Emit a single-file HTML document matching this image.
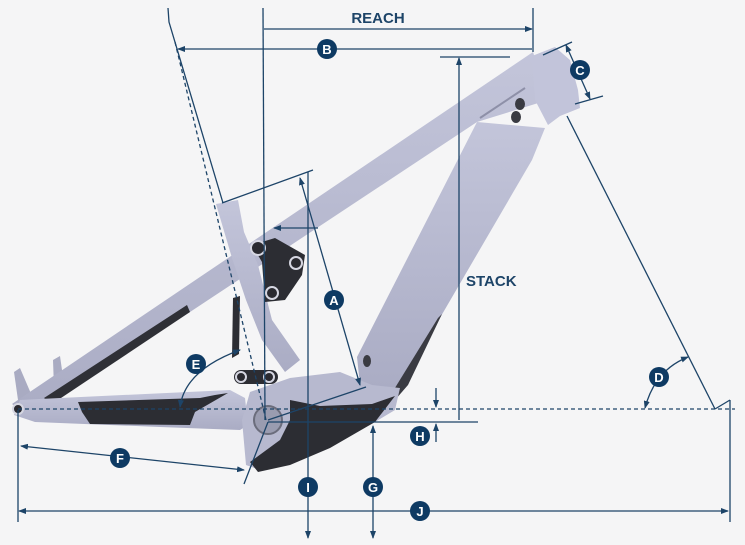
<!DOCTYPE html>
<html><head><meta charset="utf-8"><style>
html,body{margin:0;padding:0;background:#f5f5f6;}
svg{display:block;}
text{font-family:"Liberation Sans",sans-serif;font-weight:bold;}
</style></head><body>
<svg width="745" height="545" viewBox="0 0 745 545" xmlns="http://www.w3.org/2000/svg">
<defs>
<marker id="ar" markerWidth="8" markerHeight="6" refX="7" refY="3" orient="auto-start-reverse" markerUnits="userSpaceOnUse"><path d="M0,0 L8,3 L0,6 z" fill="#1d4468"/></marker>
<linearGradient id="fr" x1="0" y1="0" x2="0" y2="1"><stop offset="0" stop-color="#c3c5da"/><stop offset="1" stop-color="#aaacc4"/></linearGradient>
</defs>
<rect width="745" height="545" fill="#f5f5f6"/>

<g>
<polygon points="14,372 20,368 32,396 18,400" fill="#a9abc2"/>
<polygon points="53,360 60,356 64,384 54,388" fill="#a9abc2"/>
<polygon points="12,404 533,52 548,100 477,122 400,173 267,261 190,312 48,402 30,418" fill="url(#fr)"/>
<polygon points="44,398 187,305 190,312 52,404" fill="#2f3036"/>
<polygon points="20,400 60,398 230,390 245,398 248,425 240,430 160,427 35,422 14,415" fill="url(#fr)"/>
<polygon points="78,402 200,398 215,395 228,393 195,412 190,425 90,424 82,412" fill="#2c2d33"/>
<polygon points="216,204 238,200 244,232 258,265 272,320 300,360 285,372 262,340 246,300 232,258" fill="url(#fr)"/>
<polygon points="233,298 240,296 239,354 232,358" fill="#2c2d33"/>
<polygon points="477,122 545,128 532,160 430,335 400,390 360,385 357,357" fill="url(#fr)"/>
<polygon points="438,318 442,314 408,385 395,400 390,396" fill="#3a3b42"/>
<polygon points="532,56 555,47 570,60 578,90 580,108 560,116 548,125 535,100" fill="#c2c4da"/>
<path d="M480,118 L525,88" stroke="#8e90a8" stroke-width="2"/>
<polygon points="250,392 290,378 340,372 372,385 400,388 395,410 370,425 300,458 260,470 246,465 242,420" fill="#b7b9cf"/>
<path d="M290,400 L320,406 L372,404 L395,396 L375,422 L330,448 L290,465 L258,472 L250,462 L280,440 L290,420 Z" fill="#2c2d33"/>
<circle cx="268" cy="420" r="14" fill="#9a9cb0" stroke="#6b6d7c" stroke-width="2"/>
<polygon points="252,245 275,238 305,255 302,275 285,300 265,302 262,262" fill="#2c2d33"/>
<circle cx="258" cy="248" r="7" fill="#2a2a30" stroke="#d6d7e2" stroke-width="2"/>
<circle cx="296" cy="263" r="6" fill="#2a2a30" stroke="#d6d7e2" stroke-width="2"/>
<circle cx="272" cy="293" r="6" fill="#2a2a30" stroke="#d6d7e2" stroke-width="2"/>
<rect x="234" y="370" width="44" height="14" rx="7" fill="#2c2d33"/>
<circle cx="241" cy="377" r="5" fill="#2a2a30" stroke="#d6d7e2" stroke-width="2"/>
<circle cx="269" cy="377" r="5" fill="#2a2a30" stroke="#d6d7e2" stroke-width="2"/>
<circle cx="18" cy="409" r="5" fill="#2a2a30" stroke="#d6d7e2" stroke-width="2"/>
<ellipse cx="520" cy="104" rx="5" ry="6" fill="#3a3b42"/>
<ellipse cx="516" cy="117" rx="5" ry="6" fill="#3a3b42"/>
<ellipse cx="367" cy="361" rx="4" ry="6" fill="#3a3b42"/>
</g>

<g stroke="#1d4468" stroke-width="1.3" fill="none">
<line x1="263" y1="8" x2="265" y2="420"/>
<line x1="533" y1="8" x2="533" y2="52"/>
<line x1="264" y1="29" x2="532" y2="29" marker-end="url(#ar)"/>
<line x1="178" y1="49" x2="532" y2="49" marker-start="url(#ar)"/>
<path d="M168,8 L169,22 L223,203"/>
<line x1="175" y1="42" x2="266" y2="420" stroke-dasharray="4,3"/>
<line x1="222" y1="203" x2="313" y2="170"/>
<line x1="300" y1="178" x2="360" y2="385" marker-start="url(#ar)" marker-end="url(#ar)"/>
<line x1="268" y1="420" x2="366" y2="387"/>
<line x1="274" y1="228" x2="318" y2="228" marker-start="url(#ar)"/>
<line x1="308" y1="172" x2="308" y2="538" marker-end="url(#ar)"/>
<line x1="440" y1="57" x2="510" y2="57"/>
<line x1="459" y1="420" x2="459" y2="58" marker-end="url(#ar)"/>
<line x1="543" y1="55" x2="572" y2="42"/>
<line x1="575" y1="104" x2="603" y2="96"/>
<line x1="566" y1="45" x2="590" y2="99" marker-start="url(#ar)" marker-end="url(#ar)"/>
<line x1="567" y1="116" x2="715" y2="409"/>
<line x1="715" y1="409" x2="730" y2="400"/>
<line x1="730" y1="400" x2="730" y2="522"/>
<line x1="18" y1="409" x2="735" y2="409" stroke-dasharray="4,3"/>
<line x1="268" y1="422" x2="478" y2="422"/>
<line x1="436" y1="388" x2="436" y2="407" marker-end="url(#ar)"/>
<line x1="436" y1="442" x2="436" y2="424" marker-end="url(#ar)"/>
<line x1="373" y1="538" x2="373" y2="426" marker-start="url(#ar)" marker-end="url(#ar)"/>
<line x1="18" y1="410" x2="18" y2="522"/>
<line x1="19" y1="511" x2="728" y2="511" marker-start="url(#ar)" marker-end="url(#ar)"/>
<line x1="21" y1="446" x2="244" y2="470" marker-start="url(#ar)" marker-end="url(#ar)"/>
<line x1="268" y1="422" x2="244" y2="484"/>
<path d="M180,407 Q185,370 240,350" marker-start="url(#ar)" marker-end="url(#ar)"/>
<path d="M645,408 Q655,370 688,357" marker-start="url(#ar)" marker-end="url(#ar)"/>
</g>

<text x="378" y="23" font-size="15" fill="#1d4468" text-anchor="middle">REACH</text>
<text x="466" y="286" font-size="15" fill="#1d4468">STACK</text>
<g font-size="13" fill="#fff" text-anchor="middle">
<circle cx="327" cy="49" r="10" fill="#0e3a63"/><text x="327" y="54">B</text>
<circle cx="580" cy="70" r="10" fill="#0e3a63"/><text x="580" y="75">C</text>
<circle cx="334" cy="300" r="10" fill="#0e3a63"/><text x="334" y="305">A</text>
<circle cx="196" cy="364" r="10" fill="#0e3a63"/><text x="196" y="369">E</text>
<circle cx="659" cy="377" r="10" fill="#0e3a63"/><text x="659" y="382">D</text>
<circle cx="420" cy="436" r="10" fill="#0e3a63"/><text x="420" y="441">H</text>
<circle cx="120" cy="458" r="10" fill="#0e3a63"/><text x="120" y="463">F</text>
<circle cx="308" cy="487" r="10" fill="#0e3a63"/><text x="308" y="492">I</text>
<circle cx="373" cy="487" r="10" fill="#0e3a63"/><text x="373" y="492">G</text>
<circle cx="420" cy="511" r="10" fill="#0e3a63"/><text x="420" y="516">J</text>
</g>
</svg>
</body></html>
